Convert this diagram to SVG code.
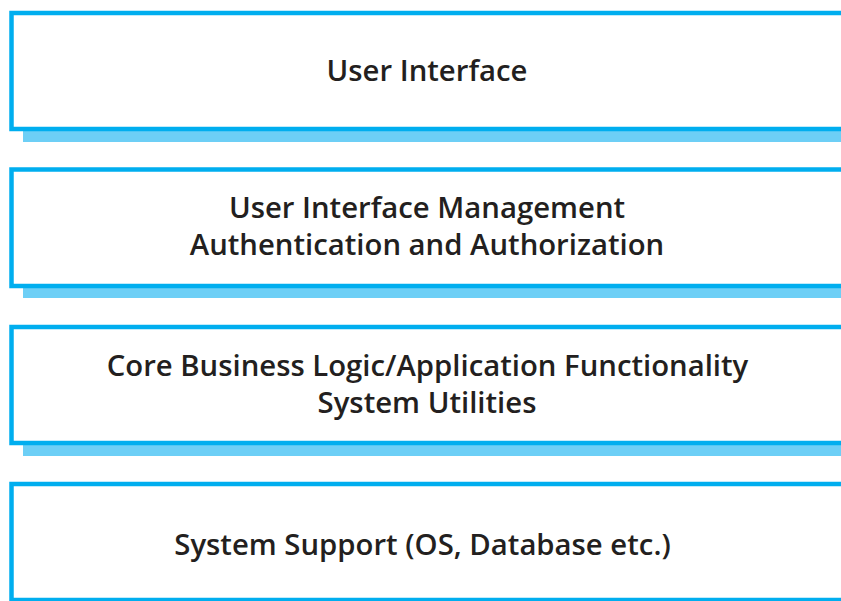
<svg xmlns="http://www.w3.org/2000/svg" width="841" height="601" viewBox="0 0 841 601">
<style>
.box{fill:#ffffff;stroke:#00aeef;stroke-width:4.5}
.shadow{fill:#6dcff6}
.t{font-family:"Open Sans","Noto Sans","Liberation Sans",sans-serif;font-size:29.3px;font-weight:600;fill:#231f20;text-anchor:middle}
</style>
<rect width="841" height="601" fill="#ffffff"/>
<g id="layer-ui">
<rect class="shadow" x="23" y="25" width="830" height="117"/>
<rect class="box" x="11.5" y="13" width="840" height="116"/>
<text class="t" x="427" y="81">User Interface</text>
</g>
<g id="layer-uim">
<rect class="shadow" x="23" y="182" width="830" height="116"/>
<rect class="box" x="11.5" y="169.5" width="840" height="116.5"/>
<text class="t" x="427" y="218">User Interface Management</text>
<text class="t" x="427" y="255">Authentication and Authorization</text>
</g>
<g id="layer-core">
<rect class="shadow" x="23" y="339" width="830" height="117"/>
<rect class="box" x="11.5" y="327" width="840" height="116"/>
<text class="t" x="427.5" y="376">Core Business Logic/Application Functionality</text>
<text class="t" x="427" y="413">System Utilities</text>
</g>
<g id="layer-support">
<rect class="box" x="11.5" y="484" width="840" height="116"/>
<text class="t" x="422.5" y="555">System Support (OS, Database etc.)</text>
</g>
<g id="connectors"></g>
</svg>
